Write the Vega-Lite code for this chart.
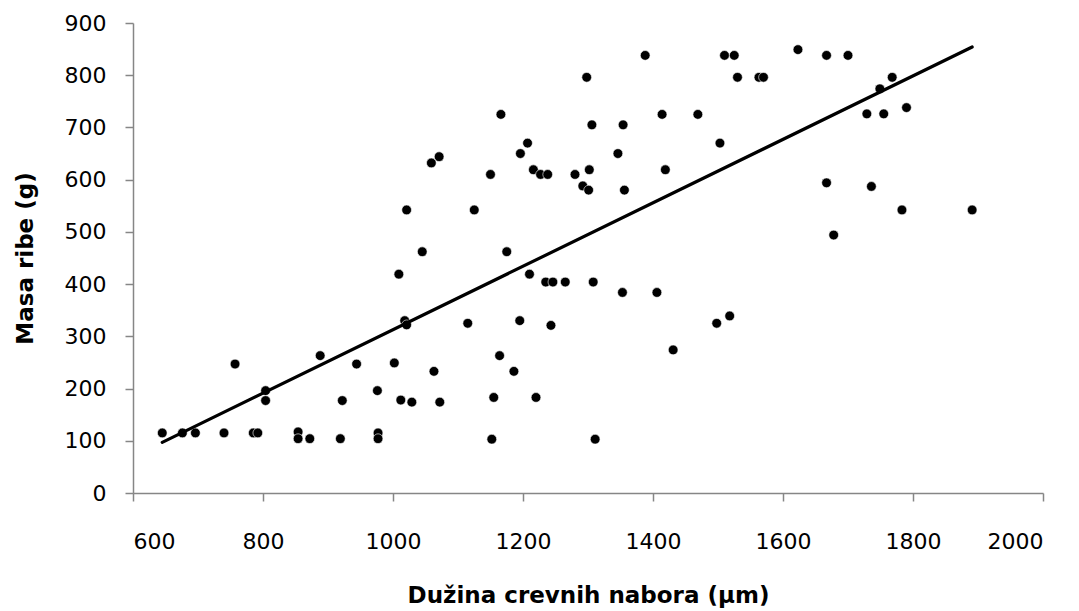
{
  "$schema": "https://vega.github.io/schema/vega-lite/v6.json",
  "width": 910,
  "height": 470,
  "autosize": {"type": "none"},
  "padding": {"left": 133, "top": 23, "right": 36, "bottom": 118},
  "background": "white",
  "config": {
    "view": {"stroke": null},
    "font": "DejaVu Sans",
    "axis": {
      "grid": false,
      "domainColor": "#868686",
      "domainWidth": 1.5,
      "tickColor": "#868686",
      "tickWidth": 1.5,
      "tickSize": 8,
      "labelFont": "DejaVu Sans",
      "labelFontSize": 22,
      "labelColor": "#000000",
      "titleFont": "DejaVu Sans",
      "titleFontSize": 23,
      "titleFontWeight": "bold",
      "titleColor": "#000000"
    }
  },
  "datasets": {
    "points": [
      {"x": 645, "y": 115}, {"x": 676, "y": 115}, {"x": 696, "y": 115}, {"x": 740, "y": 115},
      {"x": 757, "y": 247}, {"x": 785, "y": 115}, {"x": 792, "y": 115}, {"x": 804, "y": 196},
      {"x": 804, "y": 177}, {"x": 854, "y": 117}, {"x": 854, "y": 104}, {"x": 872, "y": 104},
      {"x": 888, "y": 263}, {"x": 919, "y": 104}, {"x": 922, "y": 177}, {"x": 944, "y": 247},
      {"x": 976, "y": 196}, {"x": 977, "y": 115}, {"x": 977, "y": 104}, {"x": 1002, "y": 249},
      {"x": 1009, "y": 419}, {"x": 1012, "y": 178}, {"x": 1018, "y": 330}, {"x": 1021, "y": 322},
      {"x": 1021, "y": 542}, {"x": 1029, "y": 174}, {"x": 1045, "y": 462}, {"x": 1059, "y": 632},
      {"x": 1063, "y": 233}, {"x": 1071, "y": 644}, {"x": 1072, "y": 174}, {"x": 1115, "y": 325},
      {"x": 1125, "y": 542}, {"x": 1150, "y": 610}, {"x": 1152, "y": 103}, {"x": 1155, "y": 183},
      {"x": 1164, "y": 263}, {"x": 1166, "y": 725}, {"x": 1175, "y": 462}, {"x": 1186, "y": 233},
      {"x": 1195, "y": 330}, {"x": 1196, "y": 650}, {"x": 1207, "y": 670}, {"x": 1210, "y": 419},
      {"x": 1216, "y": 619}, {"x": 1220, "y": 183}, {"x": 1227, "y": 610}, {"x": 1235, "y": 404},
      {"x": 1238, "y": 610}, {"x": 1243, "y": 321}, {"x": 1246, "y": 404}, {"x": 1265, "y": 404},
      {"x": 1280, "y": 610}, {"x": 1292, "y": 588}, {"x": 1298, "y": 796}, {"x": 1301, "y": 580},
      {"x": 1302, "y": 619}, {"x": 1306, "y": 705}, {"x": 1308, "y": 404}, {"x": 1311, "y": 103},
      {"x": 1346, "y": 650}, {"x": 1353, "y": 384}, {"x": 1354, "y": 705}, {"x": 1356, "y": 580},
      {"x": 1388, "y": 838}, {"x": 1406, "y": 384}, {"x": 1414, "y": 725}, {"x": 1419, "y": 619},
      {"x": 1431, "y": 274}, {"x": 1469, "y": 725}, {"x": 1498, "y": 325}, {"x": 1503, "y": 670},
      {"x": 1510, "y": 838}, {"x": 1518, "y": 339}, {"x": 1525, "y": 838}, {"x": 1530, "y": 796},
      {"x": 1563, "y": 796}, {"x": 1570, "y": 796}, {"x": 1623, "y": 849}, {"x": 1667, "y": 838},
      {"x": 1667, "y": 594}, {"x": 1678, "y": 494}, {"x": 1700, "y": 838}, {"x": 1729, "y": 726},
      {"x": 1736, "y": 587}, {"x": 1749, "y": 774}, {"x": 1755, "y": 726}, {"x": 1768, "y": 796},
      {"x": 1783, "y": 542}, {"x": 1790, "y": 738}, {"x": 1891, "y": 542}
    ],
    "trend": [
      {"x": 645, "y": 97},
      {"x": 1891, "y": 854}
    ]
  },
  "layer": [
    {
      "data": {"name": "points"},
      "mark": {"type": "point", "shape": "circle", "filled": true, "color": "#000000", "opacity": 1, "size": 95, "stroke": "#ffffff", "strokeWidth": 0.6},
      "encoding": {
        "x": {
          "field": "x", "type": "quantitative",
          "scale": {"domain": [600, 2000], "nice": false, "zero": false},
          "axis": {"values": [600, 800, 1000, 1200, 1400, 1600, 1800, 2000], "format": "d", "labelPadding": 30, "title": "Dužina crevnih nabora (µm)", "titlePadding": 32}
        },
        "y": {
          "field": "y", "type": "quantitative",
          "scale": {"domain": [0, 900], "nice": false},
          "axis": {"values": [0, 100, 200, 300, 400, 500, 600, 700, 800, 900], "format": "d", "labelPadding": 19, "title": "Masa ribe (g)", "titlePadding": 27}
        }
      }
    },
    {
      "data": {"name": "trend"},
      "mark": {"type": "line", "color": "#000000", "strokeWidth": 3.2, "strokeCap": "round"},
      "encoding": {
        "x": {"field": "x", "type": "quantitative"},
        "y": {"field": "y", "type": "quantitative"}
      }
    }
  ]
}
